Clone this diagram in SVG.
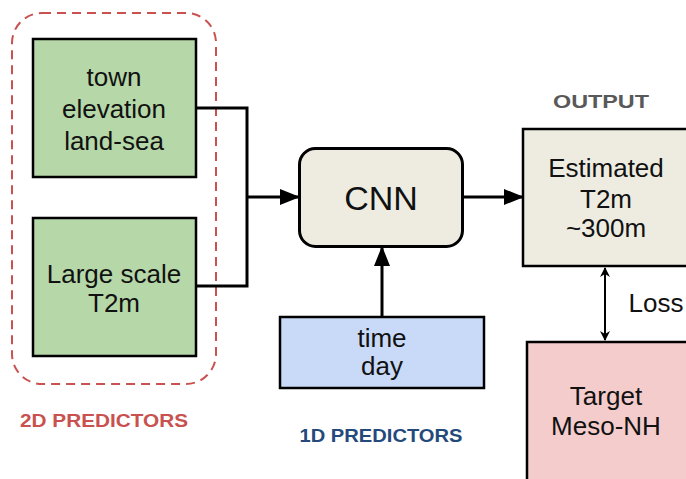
<svg xmlns="http://www.w3.org/2000/svg" width="686" height="479" viewBox="0 0 686 479">
<defs>
<style>
.box{stroke:#000;stroke-width:2.5}
.t{font-family:"Liberation Sans",Arial,sans-serif;font-size:26px;fill:#111;text-anchor:middle}
.big{font-size:34px}
.lbl{font-family:"Liberation Sans",Arial,sans-serif;font-weight:bold;text-anchor:middle}
.c{fill:none;stroke:#000;stroke-width:3}
</style>
<marker id="ah" markerUnits="userSpaceOnUse" markerWidth="20" markerHeight="16" refX="19" refY="8" orient="auto">
<path d="M0,0 L20,8 L0,16 Z" fill="#000"/>
</marker>
<marker id="sh" markerUnits="userSpaceOnUse" markerWidth="10" markerHeight="10" refX="9" refY="5" orient="auto-start-reverse">
<path d="M0,0 L10,5 L0,10 L3,5 Z" fill="#000"/>
</marker>
</defs>
<rect width="686" height="479" fill="#fff"/>
<g id="group2d">
<rect x="12" y="13" width="204" height="371" rx="30" fill="none" stroke="#c9514f" stroke-width="2" stroke-dasharray="9,6"/>
<text class="lbl" x="104" y="426.5" font-size="19" fill="#c9514f" textLength="168" lengthAdjust="spacingAndGlyphs">2D PREDICTORS</text>
</g>
<g id="static">
<rect class="box" x="33" y="39" width="163" height="138" fill="#b6d7a8"/>
<text class="t" x="114" y="86">town</text>
<text class="t" x="114" y="118">elevation</text>
<text class="t" x="114" y="150">land-sea</text>
</g>
<g id="large">
<rect class="box" x="33" y="218" width="163" height="138" fill="#b6d7a8"/>
<text class="t" x="114" y="283">Large scale</text>
<text class="t" x="114" y="312">T2m</text>
</g>
<g id="cnn">
<rect x="299.5" y="148.5" width="163" height="98" rx="16" fill="#eeece1" stroke="#000" stroke-width="3"/>
<text class="t big" x="381" y="210">CNN</text>
</g>
<g id="time">
<rect class="box" x="280" y="317" width="204" height="71" fill="#c9daf8"/>
<text class="t" x="382" y="347">time</text>
<text class="t" x="382" y="375">day</text>
<text class="lbl" x="381" y="441.5" font-size="19" fill="#244a7c" textLength="163" lengthAdjust="spacingAndGlyphs">1D PREDICTORS</text>
</g>
<g id="output">
<text class="lbl" x="601" y="107.5" font-size="18" fill="#595959" textLength="96" lengthAdjust="spacingAndGlyphs">OUTPUT</text>
<rect class="box" x="523" y="129" width="170" height="137" fill="#eeece1"/>
<text class="t" x="606" y="177">Estimated</text>
<text class="t" x="606" y="208">T2m</text>
<text class="t" x="606" y="237">~300m</text>
</g>
<g id="target">
<rect class="box" x="527" y="342" width="170" height="150" fill="#f4cccc"/>
<text class="t" x="606" y="405">Target</text>
<text class="t" x="606" y="435">Meso-NH</text>
</g>
<g id="connectors">
<path class="c" d="M196,108 H247 V286 H196"/>
<path class="c" d="M247,197 H299" marker-end="url(#ah)"/>
<path class="c" d="M463,197 H523" marker-end="url(#ah)"/>
<path class="c" d="M382,317 V247" marker-end="url(#ah)"/>
<path d="M605,268 V340" stroke="#000" stroke-width="2" fill="none" marker-start="url(#sh)" marker-end="url(#sh)"/>
<text class="t" x="656" y="312">Loss</text>
</g>
</svg>
